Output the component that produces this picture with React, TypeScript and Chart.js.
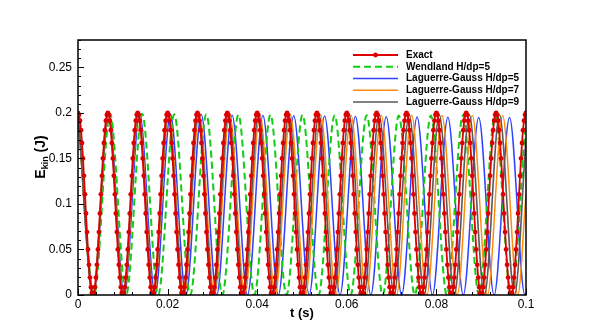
import React, { useEffect, useRef } from "react";
import { Chart, registerables } from "chart.js";
Chart.register(...registerables);

const seriesNames = [
  "Exact",
  "Wendland H/dp=5",
  "Laguerre-Gauss H/dp=5",
  "Laguerre-Gauss H/dp=7",
  "Laguerre-Gauss H/dp=9",
];

// x axis ticks (s) and y axis ticks (J)
const xTicks = [0, 0.02, 0.04, 0.06, 0.08, 0.1];
const xTickLabels = ["0", "0.02", "0.04", "0.06", "0.08", "0.1"];
const yTicks = [0, 0.05, 0.1, 0.15, 0.2, 0.25];
const yTickLabels = ["0", "0.05", "0.1", "0.15", "0.2", "0.25"];

// Exact solution samples: time in ms, kinetic energy in J
const tExactMs = [
  0,0.222,0.444,0.667,0.889,1.111,1.333,1.556,1.778,2,2.222,2.444,2.667,2.889,3.111,3.333,3.556,3.778,4,4.222,4.444,4.667,4.889,5.111,5.333,5.556,5.778,6,6.222,6.444,6.667,6.889,7.111,7.333,7.556,7.778,8,8.222,8.444,8.667,8.889,9.111,9.333,9.556,9.778,
  10,10.222,10.444,10.667,10.889,11.111,11.333,11.556,11.778,12,12.222,12.444,12.667,12.889,13.111,13.333,13.556,13.778,14,14.222,14.444,14.667,14.889,15.111,15.333,15.556,15.778,16,16.222,16.444,16.667,16.889,17.111,17.333,17.556,17.778,18,18.222,18.444,18.667,18.889,19.111,19.333,19.556,19.778,
  20,20.222,20.444,20.667,20.889,21.111,21.333,21.556,21.778,22,22.222,22.444,22.667,22.889,23.111,23.333,23.556,23.778,24,24.222,24.444,24.667,24.889,25.111,25.333,25.556,25.778,26,26.222,26.444,26.667,26.889,27.111,27.333,27.556,27.778,28,28.222,28.444,28.667,28.889,29.111,29.333,29.556,29.778,
  30,30.222,30.444,30.667,30.889,31.111,31.333,31.556,31.778,32,32.222,32.444,32.667,32.889,33.111,33.333,33.556,33.778,34,34.222,34.444,34.667,34.889,35.111,35.333,35.556,35.778,36,36.222,36.444,36.667,36.889,37.111,37.333,37.556,37.778,38,38.222,38.444,38.667,38.889,39.111,39.333,39.556,39.778,
  40,40.222,40.444,40.667,40.889,41.111,41.333,41.556,41.778,42,42.222,42.444,42.667,42.889,43.111,43.333,43.556,43.778,44,44.222,44.444,44.667,44.889,45.111,45.333,45.556,45.778,46,46.222,46.444,46.667,46.889,47.111,47.333,47.556,47.778,48,48.222,48.444,48.667,48.889,49.111,49.333,49.556,49.778,
  50,50.222,50.444,50.667,50.889,51.111,51.333,51.556,51.778,52,52.222,52.444,52.667,52.889,53.111,53.333,53.556,53.778,54,54.222,54.444,54.667,54.889,55.111,55.333,55.556,55.778,56,56.222,56.444,56.667,56.889,57.111,57.333,57.556,57.778,58,58.222,58.444,58.667,58.889,59.111,59.333,59.556,59.778,
  60,60.222,60.444,60.667,60.889,61.111,61.333,61.556,61.778,62,62.222,62.444,62.667,62.889,63.111,63.333,63.556,63.778,64,64.222,64.444,64.667,64.889,65.111,65.333,65.556,65.778,66,66.222,66.444,66.667,66.889,67.111,67.333,67.556,67.778,68,68.222,68.444,68.667,68.889,69.111,69.333,69.556,69.778,
  70,70.222,70.444,70.667,70.889,71.111,71.333,71.556,71.778,72,72.222,72.444,72.667,72.889,73.111,73.333,73.556,73.778,74,74.222,74.444,74.667,74.889,75.111,75.333,75.556,75.778,76,76.222,76.444,76.667,76.889,77.111,77.333,77.556,77.778,78,78.222,78.444,78.667,78.889,79.111,79.333,79.556,79.778,
  80,80.222,80.444,80.667,80.889,81.111,81.333,81.556,81.778,82,82.222,82.444,82.667,82.889,83.111,83.333,83.556,83.778,84,84.222,84.444,84.667,84.889,85.111,85.333,85.556,85.778,86,86.222,86.444,86.667,86.889,87.111,87.333,87.556,87.778,88,88.222,88.444,88.667,88.889,89.111,89.333,89.556,89.778,
  90,90.222,90.444,90.667,90.889,91.111,91.333,91.556,91.778,92,92.222,92.444,92.667,92.889,93.111,93.333,93.556,93.778,94,94.222,94.444,94.667,94.889,95.111,95.333,95.556,95.778,96,96.222,96.444,96.667,96.889,97.111,97.333,97.556,97.778,98,98.222,98.444,98.667,98.889,99.111,99.333,99.556,99.778,
  100,
];
const eExact = [
  0.2,0.1978,0.1914,0.1809,0.1669,0.15,0.1309,0.1105,0.0895,0.0691,0.05,0.0331,0.0191,0.0086,0.0022,0,0.0022,0.0086,0.0191,0.0331,0.05,0.0691,0.0895,0.1105,0.1309,0.15,0.1669,0.1809,0.1914,0.1978,
  0.2,0.1978,0.1914,0.1809,0.1669,0.15,0.1309,0.1105,0.0895,0.0691,0.05,0.0331,0.0191,0.0086,0.0022,0,0.0022,0.0086,0.0191,0.0331,0.05,0.0691,0.0895,0.1105,0.1309,0.15,0.1669,0.1809,0.1914,0.1978,
  0.2,0.1978,0.1914,0.1809,0.1669,0.15,0.1309,0.1105,0.0895,0.0691,0.05,0.0331,0.0191,0.0086,0.0022,0,0.0022,0.0086,0.0191,0.0331,0.05,0.0691,0.0895,0.1105,0.1309,0.15,0.1669,0.1809,0.1914,0.1978,
  0.2,0.1978,0.1914,0.1809,0.1669,0.15,0.1309,0.1105,0.0895,0.0691,0.05,0.0331,0.0191,0.0086,0.0022,0,0.0022,0.0086,0.0191,0.0331,0.05,0.0691,0.0895,0.1105,0.1309,0.15,0.1669,0.1809,0.1914,0.1978,
  0.2,0.1978,0.1914,0.1809,0.1669,0.15,0.1309,0.1105,0.0895,0.0691,0.05,0.0331,0.0191,0.0086,0.0022,0,0.0022,0.0086,0.0191,0.0331,0.05,0.0691,0.0895,0.1105,0.1309,0.15,0.1669,0.1809,0.1914,0.1978,
  0.2,0.1978,0.1914,0.1809,0.1669,0.15,0.1309,0.1105,0.0895,0.0691,0.05,0.0331,0.0191,0.0086,0.0022,0,0.0022,0.0086,0.0191,0.0331,0.05,0.0691,0.0895,0.1105,0.1309,0.15,0.1669,0.1809,0.1914,0.1978,
  0.2,0.1978,0.1914,0.1809,0.1669,0.15,0.1309,0.1105,0.0895,0.0691,0.05,0.0331,0.0191,0.0086,0.0022,0,0.0022,0.0086,0.0191,0.0331,0.05,0.0691,0.0895,0.1105,0.1309,0.15,0.1669,0.1809,0.1914,0.1978,
  0.2,0.1978,0.1914,0.1809,0.1669,0.15,0.1309,0.1105,0.0895,0.0691,0.05,0.0331,0.0191,0.0086,0.0022,0,0.0022,0.0086,0.0191,0.0331,0.05,0.0691,0.0895,0.1105,0.1309,0.15,0.1669,0.1809,0.1914,0.1978,
  0.2,0.1978,0.1914,0.1809,0.1669,0.15,0.1309,0.1105,0.0895,0.0691,0.05,0.0331,0.0191,0.0086,0.0022,0,0.0022,0.0086,0.0191,0.0331,0.05,0.0691,0.0895,0.1105,0.1309,0.15,0.1669,0.1809,0.1914,0.1978,
  0.2,0.1978,0.1914,0.1809,0.1669,0.15,0.1309,0.1105,0.0895,0.0691,0.05,0.0331,0.0191,0.0086,0.0022,0,0.0022,0.0086,0.0191,0.0331,0.05,0.0691,0.0895,0.1105,0.1309,0.15,0.1669,0.1809,0.1914,0.1978,
  0.2,0.1978,0.1914,0.1809,0.1669,0.15,0.1309,0.1105,0.0895,0.0691,0.05,0.0331,0.0191,0.0086,0.0022,0,0.0022,0.0086,0.0191,0.0331,0.05,0.0691,0.0895,0.1105,0.1309,0.15,0.1669,0.1809,0.1914,0.1978,
  0.2,0.1978,0.1914,0.1809,0.1669,0.15,0.1309,0.1105,0.0895,0.0691,0.05,0.0331,0.0191,0.0086,0.0022,0,0.0022,0.0086,0.0191,0.0331,0.05,0.0691,0.0895,0.1105,0.1309,0.15,0.1669,0.1809,0.1914,0.1978,
  0.2,0.1978,0.1914,0.1809,0.1669,0.15,0.1309,0.1105,0.0895,0.0691,0.05,0.0331,0.0191,0.0086,0.0022,0,0.0022,0.0086,0.0191,0.0331,0.05,0.0691,0.0895,0.1105,0.1309,0.15,0.1669,0.1809,0.1914,0.1978,
  0.2,0.1978,0.1914,0.1809,0.1669,0.15,0.1309,0.1105,0.0895,0.0691,0.05,0.0331,0.0191,0.0086,0.0022,0,0.0022,0.0086,0.0191,0.0331,0.05,0.0691,0.0895,0.1105,0.1309,0.15,0.1669,0.1809,0.1914,0.1978,
  0.2,0.1978,0.1914,0.1809,0.1669,0.15,0.1309,0.1105,0.0895,0.0691,0.05,0.0331,0.0191,0.0086,0.0022,0,0.0022,0.0086,0.0191,0.0331,0.05,0.0691,0.0895,0.1105,0.1309,0.15,0.1669,0.1809,0.1914,0.1978,
  0.2,
];

// Wendland H/dp=5: peaks and troughs (ms, J)
const tWendlandMs = [0,3.58,7.16,10.74,14.32,17.9,21.48,25.06,28.64,32.22,35.8,39.38,42.96,46.54,50.12,53.7,57.28,60.86,64.44,68.02,71.6,75.18,78.76,82.34,85.92,89.5,93.08,96.66,100];
const eWendland = [0.2,0,0.199,0,0.199,0,0.1985,0,0.1985,0,0.198,0,0.198,0,0.1978,0,0.1975,0,0.1975,0,0.197,0,0.197,0,0.197,0,0.197,0,0.196];

// Laguerre-Gauss H/dp=5
const tLG5Ms = [0,3.44,6.88,10.32,13.76,17.2,20.64,24.08,27.52,30.96,34.4,37.84,41.28,44.72,48.16,51.6,55.04,58.48,61.92,65.36,68.8,72.24,75.68,79.12,82.56,86,89.44,92.88,96.32,99.76,100];
const eLG5 = [0.2,0,0.1995,0,0.199,0,0.1985,0,0.198,0,0.1975,0,0.197,0,0.1968,0,0.1965,0,0.196,0,0.1958,0,0.1955,0,0.1952,0,0.195,0,0.195,0,0.002];

// Laguerre-Gauss H/dp=7
const tLG7Ms = [0,3.39,6.77,10.16,13.54,16.93,20.31,23.7,27.08,30.47,33.85,37.24,40.62,44.01,47.39,50.78,54.16,57.55,60.93,64.32,67.7,71.09,74.47,77.86,81.24,84.63,88.01,91.4,94.78,98.17,100];
const eLG7 = [0.2,0,0.1995,0,0.199,0,0.199,0,0.1985,0,0.1985,0,0.198,0,0.198,0,0.198,0,0.1975,0,0.1975,0,0.1975,0,0.197,0,0.197,0,0.197,0,0.111];

// Laguerre-Gauss H/dp=9
const tLG9Ms = [0,3.36,6.72,10.08,13.44,16.8,20.16,23.52,26.88,30.24,33.6,36.96,40.32,43.68,47.04,50.4,53.76,57.12,60.48,63.84,67.2,70.56,73.92,77.28,80.64,84,87.36,90.72,94.08,97.44,100];
const eLG9 = [0.2,0,0.2,0,0.1995,0,0.1995,0,0.199,0,0.199,0,0.199,0,0.1985,0,0.1985,0,0.1985,0,0.198,0,0.198,0,0.198,0,0.198,0,0.198,0,0.172];

const FONT = "'Liberation Sans', Arial, Helvetica, sans-serif";

function toPoints(tMs: number[], e: number[]) {
  return tMs.map((t, i) => ({ x: t / 1000, y: e[i] }));
}

const decorPlugin = {
  id: "decor",
  afterDatasetsDraw(chart: any) {
    const ctx = chart.ctx as CanvasRenderingContext2D;
    const { left, right, top, bottom } = chart.chartArea;
    const xs = chart.scales.x;
    const ys = chart.scales.y;
    ctx.save();
    ctx.strokeStyle = "#000";
    ctx.lineWidth = 1;
    // y ticks (inward)
    for (let k = 0; k <= 28; k++) {
      const v = k / 100;
      const py = Math.round(ys.getPixelForValue(v)) + 0.5;
      const len = k % 5 === 0 ? 6 : 3;
      ctx.beginPath();
      ctx.moveTo(left, py);
      ctx.lineTo(left + len, py);
      ctx.stroke();
    }
    // x ticks (inward)
    for (let k = 0; k <= 25; k++) {
      const v = k * 0.004;
      const px = Math.round(xs.getPixelForValue(v)) + 0.5;
      const len = k % 5 === 0 ? 6 : 3;
      ctx.beginPath();
      ctx.moveTo(px, bottom);
      ctx.lineTo(px, bottom - len);
      ctx.stroke();
    }
    // frame
    ctx.lineWidth = 1.5;
    ctx.strokeRect(left, top, right - left, bottom - top);
    ctx.restore();
  },
  afterDraw(chart: any) {
    const ctx = chart.ctx as CanvasRenderingContext2D;
    const { left, right } = chart.chartArea;
    ctx.save();
    ctx.fillStyle = "#000";
    // x title
    ctx.font = `bold 13px ${FONT}`;
    ctx.textAlign = "center";
    ctx.textBaseline = "middle";
    ctx.fillText("t (s)", (left + right) / 2, 313);
    // y title with subscript
    ctx.save();
    ctx.translate(40, 157);
    ctx.rotate(-Math.PI / 2);
    ctx.textAlign = "left";
    ctx.textBaseline = "alphabetic";
    const bigFont = `bold 14px ${FONT}`;
    const subFont = `bold 9px ${FONT}`;
    ctx.font = bigFont;
    const wE = ctx.measureText("E").width;
    const wJ = ctx.measureText(" (J)").width;
    ctx.font = subFont;
    const wK = ctx.measureText("kin").width;
    const total = wE + wK + wJ;
    let x0 = -total / 2;
    ctx.font = bigFont;
    ctx.fillText("E", x0, 5);
    x0 += wE;
    ctx.font = subFont;
    ctx.fillText("kin", x0, 8);
    x0 += wK;
    ctx.font = bigFont;
    ctx.fillText(" (J)", x0, 5);
    ctx.restore();

    // legend
    const ds = chart.data.datasets;
    const lx0 = 353;
    const lx1 = 398;
    const tx = 406;
    const y0 = 55;
    const dy = 11.75;
    ctx.font = `bold 10px ${FONT}`;
    ctx.textAlign = "left";
    ctx.textBaseline = "middle";
    for (let i = 0; i < ds.length; i++) {
      const d = ds[i];
      const y = y0 + i * dy;
      ctx.save();
      ctx.strokeStyle = d.borderColor;
      ctx.lineWidth = d.borderWidth;
      ctx.setLineDash(d.borderDash || []);
      ctx.beginPath();
      ctx.moveTo(lx0, y);
      ctx.lineTo(lx1, y);
      ctx.stroke();
      ctx.restore();
      if (d.pointRadius > 0) {
        ctx.beginPath();
        ctx.fillStyle = d.pointBackgroundColor;
        ctx.arc((lx0 + lx1) / 2, y, d.pointRadius, 0, Math.PI * 2);
        ctx.fill();
      }
      ctx.fillStyle = "#000";
      ctx.fillText(d.label, tx, y);
    }
    ctx.restore();
  },
};

export default function App() {
  const ref = useRef<HTMLCanvasElement>(null);
  useEffect(() => {
    const canvas = ref.current;
    if (!canvas) return;
    const common = {
      fill: false,
      cubicInterpolationMode: "monotone" as const,
      pointHoverRadius: 0,
    };
    const chart = new Chart(canvas, {
      type: "line",
      data: {
        datasets: [
          {
            ...common,
            label: seriesNames[0],
            data: toPoints(tExactMs, eExact),
            borderColor: "#dd0000",
            borderWidth: 1.8,
            pointRadius: 2.4,
            pointBackgroundColor: "#dd0000",
            pointBorderColor: "#dd0000",
            pointBorderWidth: 0,
            order: 0,
          },
          {
            ...common,
            label: seriesNames[1],
            data: toPoints(tWendlandMs, eWendland),
            borderColor: "#11cc11",
            borderWidth: 2,
            borderDash: [7, 4],
            pointRadius: 0,
            order: 3,
          },
          {
            ...common,
            label: seriesNames[2],
            data: toPoints(tLG5Ms, eLG5),
            borderColor: "#3040ff",
            borderWidth: 1.5,
            pointRadius: 0,
            order: 4,
          },
          {
            ...common,
            label: seriesNames[3],
            data: toPoints(tLG7Ms, eLG7),
            borderColor: "#ff8c10",
            borderWidth: 1.5,
            pointRadius: 0,
            order: 2,
          },
          {
            ...common,
            label: seriesNames[4],
            data: toPoints(tLG9Ms, eLG9),
            borderColor: "#5a5a5a",
            borderWidth: 1.6,
            pointRadius: 0,
            order: 1,
          },
        ],
      } as any,
      options: {
        responsive: false,
        devicePixelRatio: 1,
        animation: false,
        events: [],
        layout: { padding: { top: 40, right: 72, left: 0, bottom: 0 } },
        plugins: {
          legend: { display: false },
          tooltip: { enabled: false },
        },
        scales: {
          x: {
            type: "linear",
            min: 0,
            max: 0.1,
            grid: { display: false, drawTicks: false },
            border: { display: false },
            afterBuildTicks: (s: any) => {
              s.ticks = xTicks.map((v) => ({ value: v }));
            },
            afterFit: (s: any) => {
              s.height = 38;
            },
            ticks: {
              autoSkip: false,
              maxRotation: 0,
              padding: 2,
              color: "#000",
              font: { family: FONT, size: 12 },
              callback: (_v: any, i: number) => xTickLabels[i],
            },
          },
          y: {
            type: "linear",
            min: 0,
            max: 0.28,
            grid: { display: false, drawTicks: false },
            border: { display: false },
            afterBuildTicks: (s: any) => {
              s.ticks = yTicks.map((v) => ({ value: v }));
            },
            afterFit: (s: any) => {
              s.width = 78;
            },
            ticks: {
              autoSkip: false,
              padding: 6,
              color: "#000",
              font: { family: FONT, size: 12 },
              callback: (_v: any, i: number) => yTickLabels[i],
            },
          },
        },
      } as any,
      plugins: [decorPlugin],
    });
    return () => chart.destroy();
  }, []);
  return (
    <div style={{ position: "absolute", left: 0, top: 0, width: 598, height: 333, background: "#fff" }}>
      <canvas ref={ref} width={598} height={333} style={{ display: "block", width: 598, height: 333 }} />
    </div>
  );
}
